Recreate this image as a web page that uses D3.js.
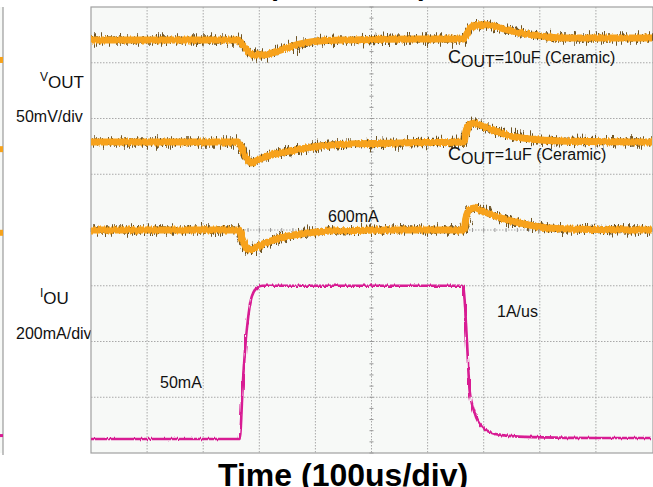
<!DOCTYPE html>
<html>
<head>
<meta charset="utf-8">
<script src="https://cdn.jsdelivr.net/npm/d3@7"></script>
<style>
  body { margin: 0; background: #fff; }
  svg { display: block; font-family: "Liberation Sans", Arial, sans-serif; }
</style>
</head>
<body>
<div id="chart"></div>
<script>
// time in us, values as deviation in mV (voltage) or absolute mA (current)
var cout10T  = [0, 105, 194, 262, 273, 283, 294, 308, 328, 354, 381, 408, 461, 586, 665, 670, 677, 688, 702, 729, 765, 800, 836, 907, 1000];
var cout10Mv = [0, 0, 0, 0, -6.3, -11.7, -13.5, -13.5, -10.8, -6.3, -2.7, -0.9, 0, 0.9, 0.9, 5.4, 10.8, 13.5, 13.5, 10.8, 6.3, 3.6, 1.8, 1.8, 1.8];

var cout1T  = [0, 262, 269, 278, 285, 294, 310, 337, 372, 408, 461, 551, 665, 668, 674, 683, 693, 720, 747, 782, 836, 1000];
var cout1Mv = [0, 0, -6.3, -15.2, -18.8, -17, -13.5, -9.9, -6.3, -3.6, -1.8, -0.9, 0, 9, 15.2, 17, 15.2, 9.9, 5.4, 2.7, 0.9, 0];

var noCapT  = [0, 264, 269, 276, 281, 292, 310, 337, 372, 426, 551, 665, 668, 674, 683, 697, 720, 756, 800, 854, 1000];
var noCapMv = [0, 0, -7.2, -15.2, -17.9, -16.1, -11.7, -7.2, -3.6, -0.9, 0, 0, 9.9, 17.9, 19.7, 17, 12.6, 7.2, 2.7, 0.9, 0];

var ioutT  = [0, 265, 271, 276, 280, 285, 290, 298, 305, 663, 666, 670, 675, 684, 699, 729, 788, 907, 1000];
var ioutMa = [50, 50, 262, 405, 484, 549, 578, 595, 600, 600, 549, 405, 226, 143, 90, 65, 57, 54, 54];

// channel offsets on screen (divisions from centre) and scales
var chOffset = [3.41, 1.58, 0];
var mvPerDiv = 50, maPerDiv = 200;
var timeTicks = d3.range(0, 1001, 100);
var divTicks = d3.range(-4, 5, 1);

var W = 653, H = 487;
var svg = d3.select("#chart").append("svg").attr("width", W).attr("height", H);

var defs = svg.append("defs");
defs.html(
  '<filter id="noise" filterUnits="userSpaceOnUse" x="0" y="0" width="653" height="487">' +
  '<feTurbulence type="fractalNoise" baseFrequency="1.2 0.05" numOctaves="3" seed="4" result="t"/>' +
  '<feDisplacementMap in="SourceGraphic" in2="t" scale="18" xChannelSelector="R" yChannelSelector="G"/>' +
  '</filter>' +
  '<filter id="noise2" filterUnits="userSpaceOnUse" x="0" y="0" width="653" height="487">' +
  '<feTurbulence type="fractalNoise" baseFrequency="0.7 0.05" numOctaves="1" seed="9" result="t"/>' +
  '<feDisplacementMap in="SourceGraphic" in2="t" scale="4" xChannelSelector="R" yChannelSelector="G"/>' +
  '</filter>' +
  '<clipPath id="plotclip"><rect x="91" y="7" width="562" height="446"/></clipPath>'
);

var x = d3.scaleLinear().domain([0, 1000]).range([91, 652]);
var y = d3.scaleLinear().domain([-4, 4]).range([453, 7]);

// labels that sit under the panel edge
var lab = svg.append("g").attr("fill", "#111").attr("font-size", 16);
var vl = lab.append("text").attr("x", 40).attr("y", 88);
vl.append("tspan").attr("font-size", 12).attr("dy", -7).text("V");
vl.append("tspan").attr("font-size", 17).attr("dy", 7).text("OUT");
lab.append("text").attr("x", 16).attr("y", 122).text("50mV/div");
var il = lab.append("text").attr("x", 40).attr("y", 304);
il.append("tspan").attr("font-size", 12).attr("dy", -7).text("I");
il.append("tspan").attr("font-size", 17).attr("dy", 7).text("OU");
lab.append("text").attr("x", 16).attr("y", 339).text("200mA/div");

// left cropped strip of a neighbouring panel
svg.append("rect").attr("x", 0).attr("y", 7).attr("width", 3).attr("height", 446).attr("fill", "#f7f9f7");
svg.append("line").attr("x1", 3).attr("x2", 3).attr("y1", 7).attr("y2", 455).attr("stroke", "#9a9a9a").attr("stroke-width", 1.2);
var stripLevels = [3.05, 1.45, -0.05];
svg.selectAll(".strip").data(stripLevels).enter().append("rect")
  .attr("x", 0).attr("width", 3).attr("y", function (d) { return y(d) - 3; }).attr("height", 6).attr("fill", "#f5a21c");
svg.append("rect").attr("x", 0).attr("width", 3).attr("y", y(-4 + 50 / maPerDiv) - 5).attr("height", 3).attr("fill", "#d81b93");

// panel
svg.append("rect").attr("x", 91).attr("y", 7).attr("width", 562).attr("height", 446)
  .attr("fill", "#f7f9f7").attr("stroke", "#a0a0a0").attr("stroke-width", 1.2);

var grid = svg.append("g").attr("stroke", "#a9a9a9").attr("stroke-width", 1).attr("stroke-dasharray", "1.5,1.5");
grid.selectAll(".gv").data(timeTicks.slice(1, -1)).enter().append("line")
  .attr("x1", function (d) { return x(d); }).attr("x2", function (d) { return x(d); })
  .attr("y1", 7).attr("y2", 453);
grid.selectAll(".gh").data(divTicks.slice(1, -1)).enter().append("line")
  .attr("x1", 91).attr("x2", 653)
  .attr("y1", function (d) { return y(d); }).attr("y2", function (d) { return y(d); });

// minor ticks on the centre lines
var minor = svg.append("g").attr("stroke", "#999").attr("stroke-width", 1);
minor.selectAll(".mx").data(d3.range(0, 1001, 20)).enter().append("line")
  .attr("x1", function (d) { return x(d); }).attr("x2", function (d) { return x(d); })
  .attr("y1", y(0) - 2).attr("y2", y(0) + 2);
minor.selectAll(".my").data(d3.range(-4, 4.01, 0.2)).enter().append("line")
  .attr("x1", x(500) - 2).attr("x2", x(500) + 2)
  .attr("y1", function (d) { return y(d); }).attr("y2", function (d) { return y(d); });

var plot = svg.append("g").attr("clip-path", "url(#plotclip)");

function vLine(ts, vals, off) {
  return d3.line().curve(d3.curveMonotoneX)
    .x(function (d, i) { return x(ts[i]); })
    .y(function (d) { return y(off + d / mvPerDiv); })(vals);
}

var traces = [
  [cout10T, cout10Mv, chOffset[0]],
  [cout1T, cout1Mv, chOffset[1]],
  [noCapT, noCapMv, chOffset[2]]
];
traces.forEach(function (tr) {
  var p = vLine(tr[0], tr[1], tr[2]);
  plot.append("path").attr("d", p).attr("fill", "none")
    .attr("stroke", "#6e5428").attr("stroke-width", 5.5).attr("filter", "url(#noise)");
  plot.append("path").attr("d", p).attr("fill", "none")
    .attr("stroke", "#f7a21b").attr("stroke-width", 7).attr("filter", "url(#noise2)");
});

var iLine = d3.line().curve(d3.curveMonotoneX)
  .x(function (d, i) { return x(ioutT[i]); })
  .y(function (d) { return y(-4 + d / maPerDiv); });
plot.append("path").attr("d", iLine(ioutMa)).attr("fill", "none")
  .attr("stroke", "#d81b93").attr("stroke-width", 2.6).attr("filter", "url(#noise2)");

// annotations
var ann = svg.append("g").attr("fill", "#111").attr("font-size", 16);
var c10 = ann.append("text").attr("x", 448).attr("y", 63);
c10.append("tspan").attr("font-size", 18).text("C");
c10.append("tspan").attr("dy", 4).text("OUT");
c10.append("tspan").attr("dy", -4).text("=10uF (Ceramic)");
var c1 = ann.append("text").attr("x", 448).attr("y", 160);
c1.append("tspan").attr("font-size", 18).text("C");
c1.append("tspan").attr("dy", 4).text("OUT");
c1.append("tspan").attr("dy", -4).text("=1uF (Ceramic)");
ann.append("text").attr("x", 328).attr("y", 222).text("600mA");
ann.append("text").attr("x", 160).attr("y", 388).text("50mA");
ann.append("text").attr("x", 497).attr("y", 317).text("1A/us");

// cropped title and axis title
var tt = svg.append("text").attr("x", 268).attr("y", -5).attr("font-weight", "bold").attr("font-size", 28).attr("fill", "#000");
tt.append("tspan").text("(I");
tt.append("tspan").attr("font-size", 20).attr("dy", 5).text("OUT");
tt.append("tspan").attr("dy", -5).text(" = 0.6A)");

svg.append("text").attr("x", 218).attr("y", 486).attr("font-weight", "bold")
  .attr("font-size", 32).attr("fill", "#000").text("Time (100us/div)");
</script>
</body>
</html>
